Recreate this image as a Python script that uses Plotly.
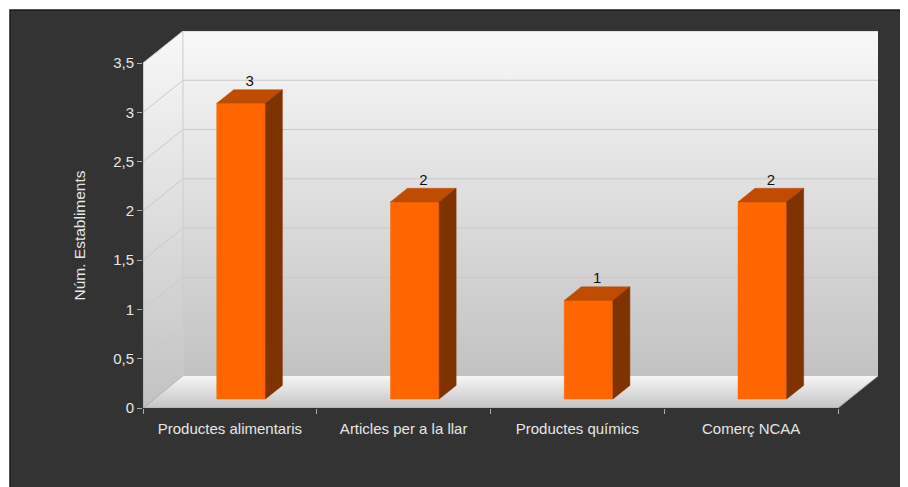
import plotly.graph_objects as go

# ---- data ----
categories = ["Productes alimentaris", "Articles per a la llar", "Productes químics", "Comerç NCAA"]
values = [3, 2, 1, 2]
y_ticks = [0, 0.5, 1, 1.5, 2, 2.5, 3, 3.5]
y_tick_labels = ["0", "0,5", "1", "1,5", "2", "2,5", "3", "3,5"]
y_title = "Núm. Establiments"

# ---- 3D projection parameters (in data units) ----
DX, DY = 0.23, 0.325
Y_TOP = y_ticks[-1]
N = len(categories)
F0, F1 = 0.28, 0.705
BAR_W = 0.28

FONT = "Liberation Sans, Arial, sans-serif"
TXT = "#e6e6e6"

fig = go.Figure()


def poly(xs, ys, color=None, grad=None, xaxis="x"):
    kw = dict(x=xs + [xs[0]], y=ys + [ys[0]], mode="lines", fill="toself",
              hoverinfo="skip", showlegend=False, xaxis=xaxis)
    if grad is not None:
        kw["fillgradient"] = dict(type="vertical", colorscale=grad)
        kw["line"] = dict(width=0)
    else:
        kw["fillcolor"] = color
        kw["line"] = dict(width=0.5, color=color)
    fig.add_trace(go.Scatter(**kw))


def lines(segs, color, width=1, xaxis="x"):
    xs, ys = [], []
    for (a, b, c, d) in segs:
        xs += [a, c, None]
        ys += [b, d, None]
    fig.add_trace(go.Scatter(x=xs, y=ys, mode="lines", line=dict(color=color, width=width),
                             hoverinfo="skip", showlegend=False, xaxis=xaxis))


wall_grad = [[0, "#c2c2c2"], [1, "#f8f8f8"]]
floor_grad = [[0, "#c4c4c4"], [1, "#f6f6f6"]]

# back wall
poly([DX, N + DX, N + DX, DX], [DY, DY, Y_TOP + DY, Y_TOP + DY], grad=wall_grad)
# left wall
poly([0, DX, DX, 0], [0, DY, Y_TOP + DY, Y_TOP], grad=wall_grad)

# gridlines
segs = []
for v in y_ticks[1:]:
    segs.append((DX, v + DY, N + DX, v + DY))
    segs.append((0, v, DX, v + DY))
lines(segs, "#c9c9c9")
lines([(DX, DY, DX, Y_TOP + DY)], "#cfcfcf")

# floor
poly([0, N, N + DX, DX], [0, 0, DY, DY], grad=floor_grad)

# axis lines (front)
fig.add_trace(go.Scatter(x=[0, 0, None, 0, N, N + DX], y=[Y_TOP, 0, None, 0, 0, DY], mode="lines",
                         line=dict(color="#ababab", width=1), hoverinfo="skip",
                         showlegend=False, xaxis="x2"))

# bars
ox, oy = (F1 - F0) * DX, (F1 - F0) * DY
for i, v in enumerate(values):
    x0 = i + 0.5 - BAR_W / 2 + F0 * DX
    x1 = x0 + BAR_W
    yb = F0 * DY
    yt = v + F0 * DY
    poly([x0, x1, x1, x0], [yb, yb, yt, yt], color="#ff6600")
    poly([x0, x1, x1 + ox, x0 + ox], [yt, yt, yt + oy, yt + oy], color="#bf4c00")
    poly([x1, x1 + ox, x1 + ox, x1], [yb, yb + oy, yt + oy, yt], color="#7f3300")

# value labels
fig.add_trace(go.Scatter(
    x=[i + 0.5 + (F0 + F1) / 2 * DX for i in range(N)],
    y=[v + F1 * DY for v in values],
    text=[str(v) for v in values], mode="text", textposition="top center",
    textfont=dict(color="#111111", size=15, family=FONT),
    hoverinfo="skip", showlegend=False))

# page body has an 8px margin: build the figure 8px smaller and shifted
OFF = 8
L, R, T, B = 143 - OFF, 30, 31 - OFF, 79
W, H = 908 - OFF, 487 - OFF
pw, ph = W - L - R, H - T - B

fig.update_layout(
    width=W, height=H,
    margin=dict(l=L, r=R, t=T, b=B),
    paper_bgcolor="white",
    plot_bgcolor="rgba(0,0,0,0)",
    font=dict(family=FONT, color=TXT, size=15),
    xaxis=dict(range=[0, N + DX], tickvals=[i + 0.5 for i in range(N)], ticktext=categories,
               ticks="", showgrid=False, zeroline=False, showline=False,
               ticklabelstandoff=10, tickfont=dict(color=TXT, size=15, family=FONT),
               fixedrange=True),
    xaxis2=dict(range=[0, N + DX], overlaying="x", side="bottom", tickvals=list(range(N + 1)),
                ticks="outside", ticklen=5, tickcolor="#ababab", showticklabels=False,
                showgrid=False, zeroline=False, showline=False, fixedrange=True),
    yaxis=dict(range=[0, Y_TOP + DY], tickvals=y_ticks, ticktext=y_tick_labels,
               ticks="outside", ticklen=5, tickcolor="#ababab", showgrid=False,
               zeroline=False, showline=False, tickfont=dict(color=TXT, size=15, family=FONT),
               fixedrange=True),
    shapes=[dict(type="rect", xref="paper", yref="paper", layer="below",
                 x0=(10 - OFF - L) / pw, x1=(W + 5 - L) / pw,
                 y0=(T + ph - H - 5) / ph, y1=(T + ph - (10 - OFF)) / ph,
                 fillcolor="#333333", line=dict(color="#1c1c1c", width=1.5))],
    annotations=[dict(text=y_title, xref="paper", yref="y", x=(80 - 143) / pw, y=Y_TOP / 2,
                      textangle=-90, showarrow=False, xanchor="center", yanchor="middle",
                      font=dict(color=TXT, size=15.5, family=FONT))],
)

fig.write_html("out.html")
